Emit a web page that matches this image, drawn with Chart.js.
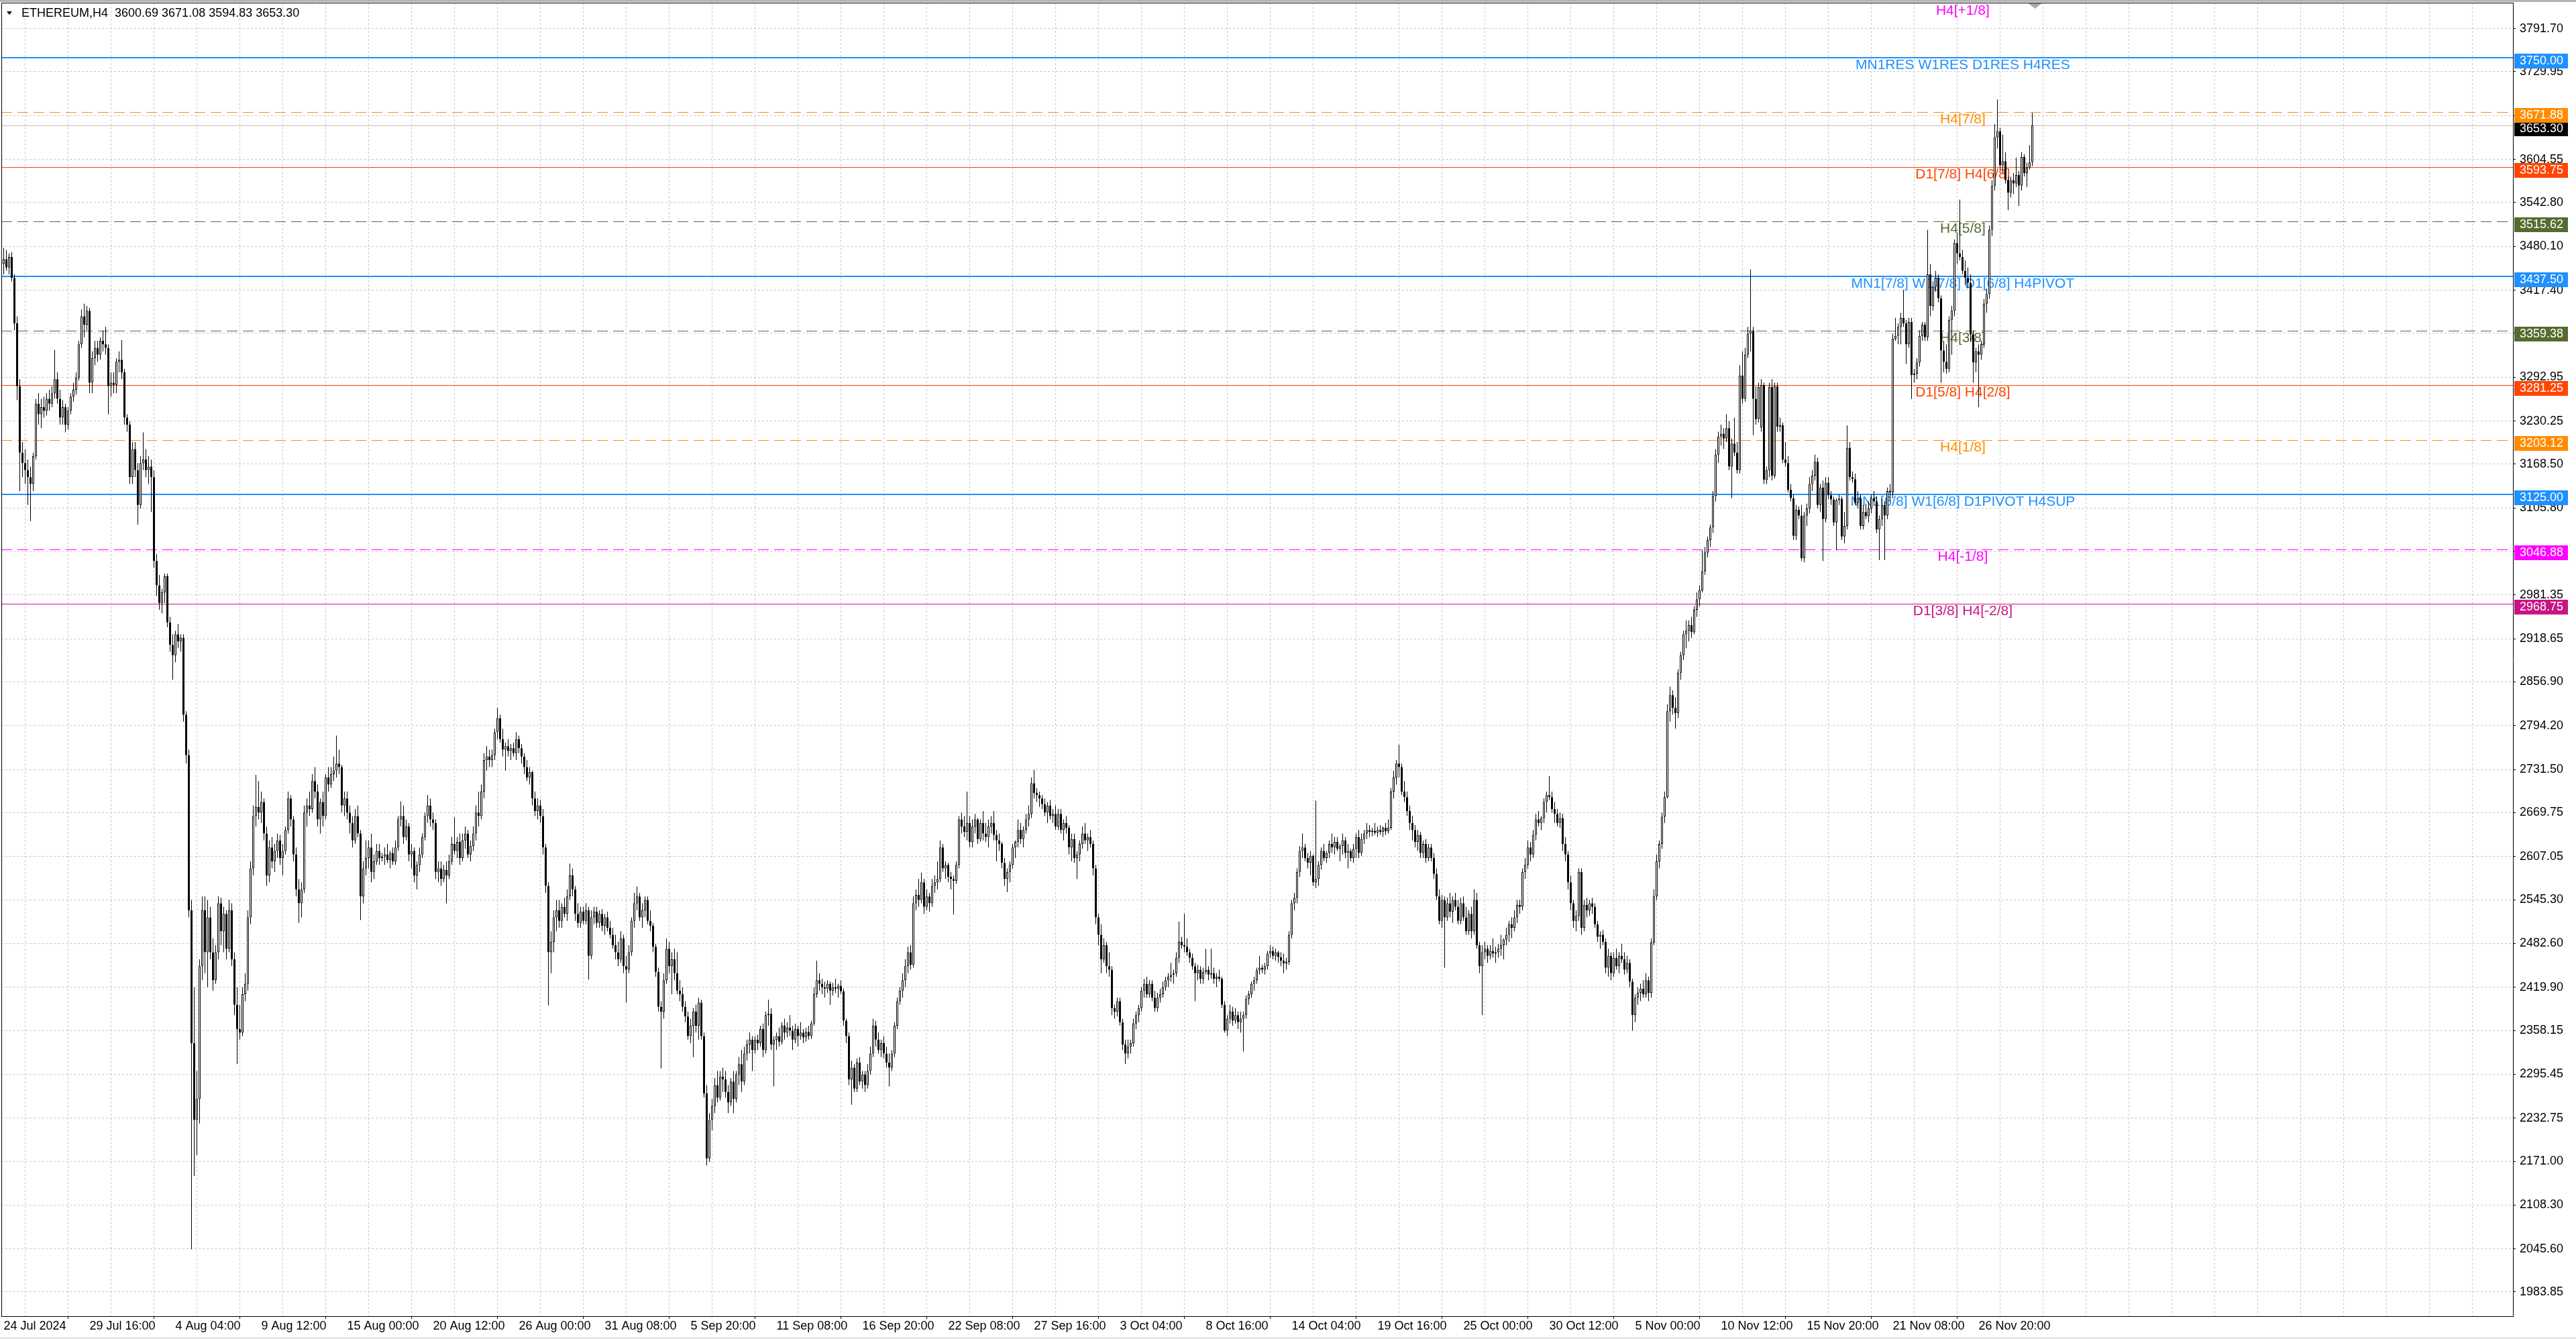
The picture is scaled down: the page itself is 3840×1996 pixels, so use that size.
<!DOCTYPE html>
<html><head><meta charset="utf-8">
<script src="https://cdn.jsdelivr.net/npm/chart.js@4.4.1/dist/chart.umd.min.js"></script>
<style>html,body{margin:0;padding:0;background:#fff;overflow:hidden}canvas{display:block}</style>
</head><body>
<canvas id="c" width="3840" height="1996" style="width:3840px;height:1996px"></canvas>
<script>
// ---------------- DATA ----------------
const symbolName = 'ETHEREUM,H4';
const dateLabels = ['24 Jul 2024','29 Jul 16:00','4 Aug 04:00','9 Aug 12:00','15 Aug 00:00','20 Aug 12:00','26 Aug 00:00','31 Aug 08:00','5 Sep 20:00','11 Sep 08:00','16 Sep 20:00','22 Sep 08:00','27 Sep 16:00','3 Oct 04:00','8 Oct 16:00','14 Oct 04:00','19 Oct 16:00','25 Oct 00:00','30 Oct 12:00','5 Nov 00:00','10 Nov 12:00','15 Nov 20:00','21 Nov 08:00','26 Nov 20:00'];
const yTickLabels = [3791.70,3729.95,3667.25,3604.55,3542.80,3480.10,3417.40,3355.70,3292.95,3230.25,3168.50,3105.80,3043.05,2981.35,2918.65,2856.90,2794.20,2731.50,2669.75,2607.05,2545.30,2482.60,2419.90,2358.15,2295.45,2232.75,2171.00,2108.30,2045.60,1983.85];

const openP = [
3455,3462,3450,3465,3435,3370,3280,3185,3170,3160,
3150,3140,3180,3255,3240,3250,3245,3262,3255,3270,
3290,3262,3235,3250,3225,3245,3265,3275,3292,3340,
3380,3368,3388,3285,3320,3335,3325,3345,3340,3335,
3280,3285,3282,3315,3318,3300,3235,3225,3150,3190,
3160,3110,3170,3175,3160,3165,3150,3030,2995,2970,
2985,3008,2942,2910,2895,2925,2915,2920,2810,2752,
2530,2340,2230,2260,2450,2530,2470,2520,2470,2430,
2470,2540,2500,2525,2475,2530,2460,2395,2360,2355,
2410,2425,2520,2590,2665,2678,2670,2685,2640,2580,
2620,2600,2615,2630,2605,2615,2645,2690,2660,2610,
2560,2540,2560,2670,2680,2675,2715,2700,2660,2685,
2665,2720,2710,2725,2730,2740,2735,2680,2690,2670,
2655,2630,2665,2640,2550,2590,2605,2620,2585,2600,
2615,2605,2607,2610,2602,2612,2600,2620,2660,2665,
2635,2650,2610,2615,2580,2595,2610,2635,2665,2680,
2660,2655,2585,2590,2575,2588,2580,2600,2625,2615,
2628,2605,2630,2640,2610,2622,2640,2670,2665,2700,
2745,2750,2745,2752,2785,2805,2775,2760,2765,2758,
2762,2755,2775,2762,2750,2735,2720,2728,2690,2672,
2680,2665,2620,2565,2470,2485,2520,2530,2515,2535,
2525,2550,2580,2560,2525,2512,2528,2515,2530,2465,
2520,2528,2512,2525,2508,2520,2505,2495,2480,2470,
2460,2490,2450,2445,2470,2515,2540,2550,2520,2530,
2545,2515,2508,2478,2442,2392,2385,2430,2475,2450,
2460,2440,2415,2410,2392,2378,2350,2365,2385,2365,
2398,2350,2268,2175,2230,2250,2280,2262,2292,2288,
2270,2255,2285,2260,2295,2310,2285,2325,2338,2345,
2330,2345,2340,2360,2330,2380,2382,2338,2345,2350,
2342,2365,2355,2362,2358,2345,2360,2350,2355,2348,
2356,2350,2368,2410,2430,2425,2420,2418,2425,2415,
2420,2418,2422,2414,2372,2350,2288,2305,2275,2312,
2285,2295,2280,2300,2325,2365,2345,2330,2340,2325,
2312,2305,2325,2365,2400,2415,2430,2450,2470,2452,
2540,2552,2545,2570,2535,2550,2540,2565,2570,2575,
2620,2590,2595,2578,2575,2572,2595,2660,2650,2642,
2655,2628,2650,2660,2632,2655,2640,2635,2650,2655,
2638,2630,2625,2598,2575,2585,2595,2620,2628,2645,
2632,2645,2660,2668,2712,2698,2695,2690,2682,2670,
2680,2665,2668,2650,2668,2645,2655,2648,2620,2632,
2605,2610,2625,2640,2630,2635,2625,2590,2520,2495,
2460,2480,2450,2445,2390,2385,2400,2370,2338,2325,
2335,2340,2368,2380,2390,2415,2425,2410,2425,2405,
2390,2405,2410,2420,2430,2435,2438,2440,2462,2485,
2480,2478,2470,2462,2450,2440,2445,2432,2442,2445,
2438,2440,2432,2435,2432,2395,2358,2375,2385,2372,
2380,2370,2375,2380,2403,2410,2425,2430,2444,2448,
2445,2450,2468,2472,2465,2470,2463,2458,2454,2456,
2495,2540,2548,2585,2615,2620,2605,2598,2608,2570,
2575,2595,2615,2605,2612,2625,2620,2628,2618,2622,
2630,2612,2615,2605,2618,2635,2612,2632,2640,2645,
2642,2644,2641,2645,2642,2648,2643,2648,2700,2720,
2740,2735,2700,2692,2672,2655,2645,2628,2638,2612,
2625,2605,2620,2605,2582,2550,2515,2545,2520,2540,
2528,2545,2535,2515,2540,2520,2500,2525,2500,2545,
2480,2450,2470,2475,2465,2472,2468,2470,2475,2480,
2488,2495,2510,2505,2520,2538,2535,2585,2595,2620,
2610,2638,2660,2655,2662,2685,2695,2692,2675,2668,
2655,2662,2625,2610,2570,2540,2515,2522,2585,2505,
2538,2530,2540,2535,2510,2492,2495,2485,2448,2465,
2440,2462,2450,2465,2460,2445,2455,2428,2380,2405,
2412,2418,2410,2430,2412,2484,2550,2600,2625,2664,
2692,2815,2838,2820,2812,2870,2895,2925,2930,2938,
2928,2960,2975,2988,3015,3042,3060,3078,3123,3182,
3208,3212,3205,3220,3165,3198,3185,3160,3295,3262,
3325,3355,3360,3262,3233,3221,3282,3146,3160,3279,
3152,3280,3222,3224,3175,3170,3132,3120,3066,3103,
3095,3034,3095,3105,3140,3152,3172,3110,3135,3090,
3142,3124,3118,3085,3117,3119,3065,3080,3192,3150,
3147,3113,3120,3080,3100,3094,3105,3120,3115,3075,
3090,3110,3095,3130,3128,3348,3352,3365,3378,3370,
3340,3372,3296,3298,3314,3352,3368,3350,3440,3395,
3422,3435,3406,3331,3315,3305,3375,3388,3485,3470,
3465,3445,3435,3428,3354,3314,3330,3325,3340,3398,
3412,3504,3567,3636,3645,3596,3602,3575,3557,3575,
3570,3582,3567,3608,3585,3593,3600.69];

const highP = [
3478,3475,3470,3472,3440,3380,3290,3200,3190,3175,
3165,3185,3262,3270,3262,3265,3270,3275,3280,3332,
3300,3275,3260,3255,3250,3270,3285,3300,3345,3390,
3398,3395,3392,3330,3345,3345,3350,3360,3365,3340,
3300,3300,3320,3330,3346,3305,3240,3230,3200,3200,
3170,3180,3214,3190,3180,3175,3160,3040,3010,2990,
3012,3012,2950,2925,2930,2940,2925,2925,2815,2760,
2545,2420,2300,2460,2550,2550,2545,2535,2490,2480,
2550,2548,2535,2530,2545,2540,2470,2420,2395,2420,
2440,2530,2600,2680,2724,2715,2700,2690,2650,2630,
2635,2625,2640,2638,2625,2650,2700,2695,2665,2620,
2575,2570,2680,2690,2700,2725,2735,2710,2690,2700,
2725,2735,2735,2750,2780,2760,2738,2700,2700,2680,
2665,2675,2680,2645,2600,2630,2630,2640,2610,2625,
2625,2612,2620,2625,2615,2620,2630,2665,2686,2680,
2660,2655,2625,2620,2600,2620,2640,2670,2695,2690,
2670,2660,2600,2600,2595,2600,2610,2635,2663,2635,
2640,2640,2650,2645,2630,2650,2680,2700,2710,2755,
2765,2760,2760,2790,2820,2810,2790,2770,2775,2768,
2770,2785,2780,2768,2755,2745,2735,2730,2700,2690,
2688,2675,2625,2570,2500,2530,2545,2545,2540,2548,
2560,2597,2590,2565,2540,2535,2535,2540,2535,2530,
2535,2535,2530,2532,2525,2528,2515,2505,2495,2485,
2500,2495,2465,2480,2520,2555,2564,2555,2540,2550,
2550,2530,2512,2482,2448,2400,2440,2490,2485,2470,
2475,2470,2430,2420,2400,2385,2375,2390,2395,2405,
2402,2355,2280,2240,2260,2290,2300,2300,2305,2300,
2280,2290,2300,2300,2320,2330,2335,2345,2355,2350,
2350,2352,2365,2368,2385,2402,2390,2350,2355,2362,
2370,2375,2370,2380,2365,2368,2365,2370,2360,2362,
2365,2372,2420,2458,2440,2432,2428,2430,2428,2426,
2432,2425,2430,2418,2375,2355,2315,2310,2318,2320,
2300,2300,2310,2335,2375,2372,2355,2345,2350,2335,
2325,2330,2370,2405,2420,2440,2460,2478,2480,2550,
2560,2575,2584,2575,2560,2555,2575,2580,2600,2630,
2625,2600,2598,2585,2580,2600,2665,2670,2665,2700,
2665,2660,2668,2662,2660,2672,2655,2660,2665,2672,
2645,2640,2628,2605,2590,2600,2625,2630,2660,2655,
2650,2668,2680,2720,2731,2705,2700,2695,2690,2685,
2688,2675,2680,2675,2675,2660,2665,2652,2640,2640,
2615,2630,2650,2655,2640,2645,2630,2595,2525,2510,
2490,2485,2470,2450,2395,2405,2405,2375,2345,2345,
2345,2375,2385,2395,2420,2432,2435,2430,2430,2415,
2412,2418,2428,2435,2440,2455,2445,2470,2514,2492,
2525,2490,2475,2468,2455,2452,2450,2448,2475,2450,
2475,2448,2440,2445,2435,2400,2380,2395,2392,2390,
2385,2385,2385,2408,2415,2428,2435,2448,2465,2452,
2455,2472,2480,2478,2475,2472,2470,2468,2462,2500,
2545,2555,2590,2622,2640,2625,2612,2615,2610,2687,
2600,2620,2625,2615,2630,2640,2635,2635,2625,2640,
2635,2625,2618,2625,2640,2645,2640,2645,2655,2652,
2648,2655,2650,2652,2650,2655,2660,2705,2730,2745,
2767,2740,2715,2700,2680,2665,2652,2645,2642,2630,
2632,2625,2625,2612,2590,2560,2552,2550,2548,2555,
2550,2555,2545,2548,2550,2535,2530,2535,2560,2555,
2485,2480,2485,2480,2480,2490,2478,2482,2495,2490,
2505,2515,2520,2530,2545,2545,2590,2605,2630,2628,
2645,2668,2672,2665,2690,2700,2722,2700,2685,2675,
2670,2668,2635,2615,2580,2545,2530,2590,2590,2545,
2548,2545,2548,2540,2515,2500,2502,2490,2475,2470,
2470,2475,2470,2482,2470,2465,2460,2432,2410,2420,
2425,2430,2440,2435,2490,2560,2610,2630,2670,2700,
2825,2850,2845,2835,2875,2900,2930,2945,2945,2950,
2965,2985,2995,3045,3050,3065,3082,3130,3190,3215,
3225,3220,3240,3230,3205,3235,3200,3310,3330,3335,
3365,3447,3365,3280,3285,3290,3285,3165,3285,3290,
3285,3285,3235,3228,3200,3180,3140,3125,3110,3108,
3110,3100,3112,3150,3160,3182,3178,3140,3145,3150,
3150,3130,3122,3120,3125,3122,3100,3224,3200,3158,
3155,3130,3125,3110,3112,3115,3125,3130,3122,3095,
3120,3115,3135,3140,3355,3378,3370,3385,3418,3375,
3378,3378,3305,3320,3360,3372,3372,3504,3455,3430,
3445,3440,3410,3345,3340,3380,3395,3490,3500,3547,
3475,3460,3450,3440,3360,3335,3340,3345,3405,3420,
3510,3575,3655,3690,3650,3640,3615,3580,3580,3585,
3607,3588,3615,3612,3600,3625,3671.08];

const lowP = [
3440,3445,3440,3430,3360,3260,3130,3150,3140,3110,
3087,3130,3175,3225,3220,3235,3238,3245,3250,3262,
3255,3225,3225,3214,3218,3240,3258,3268,3288,3335,
3350,3360,3270,3270,3310,3315,3318,3330,3325,3240,
3265,3270,3270,3300,3290,3225,3215,3140,3140,3150,
3082,3105,3160,3150,3140,3100,3020,2980,2960,2955,
2970,2935,2900,2860,2885,2905,2900,2800,2740,2520,
2045,2150,2180,2225,2430,2440,2420,2460,2415,2425,
2460,2480,2470,2460,2470,2450,2380,2310,2345,2350,
2400,2415,2510,2580,2650,2660,2655,2630,2565,2570,
2590,2585,2605,2595,2580,2610,2640,2650,2600,2550,
2512,2520,2555,2650,2665,2670,2690,2650,2640,2650,
2660,2700,2705,2715,2720,2725,2670,2665,2660,2640,
2620,2625,2635,2516,2540,2580,2590,2570,2575,2595,
2595,2600,2595,2598,2590,2595,2595,2615,2650,2625,
2630,2600,2590,2570,2560,2585,2605,2630,2655,2650,
2645,2575,2570,2565,2570,2540,2575,2595,2610,2605,
2595,2600,2618,2605,2600,2615,2630,2650,2660,2690,
2730,2735,2735,2745,2775,2770,2750,2730,2750,2745,
2750,2745,2755,2740,2725,2715,2710,2680,2665,2660,
2655,2610,2555,2394,2440,2470,2500,2505,2505,2520,
2515,2545,2550,2515,2505,2505,2510,2510,2431,2460,
2510,2505,2505,2500,2495,2500,2490,2475,2460,2450,
2455,2440,2398,2440,2465,2505,2530,2515,2505,2520,
2510,2500,2470,2435,2385,2304,2375,2425,2440,2410,
2430,2410,2400,2385,2370,2345,2340,2320,2355,2345,
2345,2262,2165,2170,2215,2240,2255,2258,2270,2262,
2240,2250,2240,2255,2280,2270,2280,2315,2325,2300,
2325,2330,2335,2320,2325,2365,2330,2278,2330,2335,
2338,2345,2348,2350,2330,2340,2335,2345,2340,2342,
2345,2346,2365,2405,2415,2410,2405,2412,2395,2408,
2412,2405,2410,2365,2340,2280,2252,2270,2270,2280,
2275,2270,2275,2295,2320,2335,2325,2320,2318,2305,
2278,2300,2320,2360,2395,2405,2420,2440,2445,2448,
2530,2535,2540,2525,2530,2528,2535,2555,2560,2570,
2585,2575,2570,2560,2524,2568,2590,2640,2635,2630,
2620,2620,2640,2625,2628,2630,2628,2620,2640,2630,
2600,2615,2590,2565,2556,2570,2590,2605,2620,2625,
2620,2640,2650,2662,2690,2685,2678,2675,2665,2655,
2660,2655,2645,2645,2640,2630,2640,2610,2600,2598,
2575,2600,2618,2625,2615,2620,2580,2510,2480,2440,
2455,2440,2435,2380,2375,2378,2365,2330,2310,2318,
2325,2335,2360,2370,2385,2405,2405,2405,2400,2385,
2385,2398,2405,2415,2420,2428,2425,2435,2455,2475,
2470,2465,2455,2445,2400,2430,2425,2425,2438,2430,
2432,2425,2420,2428,2390,2355,2350,2368,2365,2368,
2360,2355,2328,2375,2395,2405,2415,2425,2438,2440,
2438,2445,2462,2460,2458,2455,2450,2440,2445,2452,
2490,2530,2540,2578,2605,2600,2590,2580,2565,2562,
2565,2588,2600,2598,2605,2612,2610,2615,2600,2610,
2605,2590,2600,2598,2605,2605,2608,2625,2632,2635,
2636,2638,2635,2638,2635,2638,2640,2645,2690,2710,
2720,2695,2685,2665,2645,2630,2620,2615,2605,2605,
2598,2600,2600,2575,2545,2510,2505,2448,2515,2520,
2512,2530,2510,2510,2515,2495,2495,2490,2495,2475,
2440,2380,2460,2455,2460,2462,2455,2462,2465,2460,
2480,2485,2490,2500,2512,2525,2530,2575,2590,2600,
2605,2630,2650,2645,2655,2670,2688,2670,2655,2650,
2648,2615,2600,2560,2530,2505,2500,2515,2495,2500,
2520,2522,2525,2505,2485,2475,2480,2440,2435,2430,
2435,2445,2440,2455,2438,2440,2420,2358,2370,2395,
2400,2405,2405,2400,2405,2480,2545,2590,2618,2655,
2690,2800,2810,2790,2805,2860,2888,2905,2915,2920,
2925,2950,2965,2985,3010,3035,3050,3070,3115,3170,
3195,3190,3200,3160,3120,3180,3155,3155,3255,3258,
3320,3330,3210,3225,3228,3215,3140,3140,3150,3145,
3148,3215,3215,3170,3165,3128,3115,3060,3060,3090,
3030,3028,3080,3098,3130,3145,3105,3100,3030,3085,
3118,3110,3080,3045,3110,3060,3055,3075,3145,3142,
3110,3105,3075,3075,3090,3085,3098,3110,3070,3031,
3080,3031,3090,3115,3120,3345,3340,3340,3365,3312,
3335,3262,3285,3290,3308,3345,3345,3345,3380,3388,
3415,3400,3285,3300,3298,3300,3325,3380,3455,3460,
3440,3425,3420,3345,3285,3300,3250,3318,3335,3385,
3405,3495,3560,3620,3590,3585,3570,3532,3550,3555,
3565,3538,3560,3580,3565,3590,3594.83];

const closeP = [
3462,3450,3465,3435,3370,3280,3185,3170,3160,3150,
3140,3180,3255,3240,3250,3245,3262,3255,3270,3290,
3262,3235,3250,3225,3245,3265,3275,3292,3340,3380,
3368,3388,3285,3320,3335,3325,3345,3340,3335,3280,
3285,3282,3315,3318,3300,3235,3225,3150,3190,3160,
3110,3170,3175,3160,3165,3150,3030,2995,2970,2985,
3008,2942,2910,2895,2925,2915,2920,2810,2752,2530,
2340,2230,2260,2450,2530,2470,2520,2470,2430,2470,
2540,2500,2525,2475,2530,2460,2395,2360,2355,2410,
2425,2520,2590,2665,2678,2670,2685,2640,2580,2620,
2600,2615,2630,2605,2615,2645,2690,2660,2610,2560,
2540,2560,2670,2680,2675,2715,2700,2660,2685,2665,
2720,2710,2725,2730,2740,2735,2680,2690,2670,2655,
2630,2665,2640,2550,2590,2605,2620,2585,2600,2615,
2605,2607,2610,2602,2612,2600,2620,2660,2665,2635,
2650,2610,2615,2580,2595,2610,2635,2665,2680,2660,
2655,2585,2590,2575,2588,2580,2600,2625,2615,2628,
2605,2630,2640,2610,2622,2640,2670,2665,2700,2745,
2750,2745,2752,2785,2805,2775,2760,2765,2758,2762,
2755,2775,2762,2750,2735,2720,2728,2690,2672,2680,
2665,2620,2565,2470,2485,2520,2530,2515,2535,2525,
2550,2580,2560,2525,2512,2528,2515,2530,2465,2520,
2528,2512,2525,2508,2520,2505,2495,2480,2470,2460,
2490,2450,2445,2470,2515,2540,2550,2520,2530,2545,
2515,2508,2478,2442,2392,2385,2430,2475,2450,2460,
2440,2415,2410,2392,2378,2350,2365,2385,2365,2398,
2350,2268,2175,2230,2250,2280,2262,2292,2288,2270,
2255,2285,2260,2295,2310,2285,2325,2338,2345,2330,
2345,2340,2360,2330,2380,2382,2338,2345,2350,2342,
2365,2355,2362,2358,2345,2360,2350,2355,2348,2356,
2350,2368,2410,2430,2425,2420,2418,2425,2415,2420,
2418,2422,2414,2372,2350,2288,2305,2275,2312,2285,
2295,2280,2300,2325,2365,2345,2330,2340,2325,2312,
2305,2325,2365,2400,2415,2430,2450,2470,2452,2540,
2552,2545,2570,2535,2550,2540,2565,2570,2575,2620,
2590,2595,2578,2575,2572,2595,2660,2650,2642,2655,
2628,2650,2660,2632,2655,2640,2635,2650,2655,2638,
2630,2625,2598,2575,2585,2595,2620,2628,2645,2632,
2645,2660,2668,2712,2698,2695,2690,2682,2670,2680,
2665,2668,2650,2668,2645,2655,2648,2620,2632,2605,
2610,2625,2640,2630,2635,2625,2590,2520,2495,2460,
2480,2450,2445,2390,2385,2400,2370,2338,2325,2335,
2340,2368,2380,2390,2415,2425,2410,2425,2405,2390,
2405,2410,2420,2430,2435,2438,2440,2462,2485,2480,
2478,2470,2462,2450,2440,2445,2432,2442,2445,2438,
2440,2432,2435,2432,2395,2358,2375,2385,2372,2380,
2370,2375,2380,2403,2410,2425,2430,2444,2448,2445,
2450,2468,2472,2465,2470,2463,2458,2454,2456,2495,
2540,2548,2585,2615,2620,2605,2598,2608,2570,2575,
2595,2615,2605,2612,2625,2620,2628,2618,2622,2630,
2612,2615,2605,2618,2635,2612,2632,2640,2645,2642,
2644,2641,2645,2642,2648,2643,2648,2700,2720,2740,
2735,2700,2692,2672,2655,2645,2628,2638,2612,2625,
2605,2620,2605,2582,2550,2515,2545,2520,2540,2528,
2545,2535,2515,2540,2520,2500,2525,2500,2545,2480,
2450,2470,2475,2465,2472,2468,2470,2475,2480,2488,
2495,2510,2505,2520,2538,2535,2585,2595,2620,2610,
2638,2660,2655,2662,2685,2695,2692,2675,2668,2655,
2662,2625,2610,2570,2540,2515,2522,2585,2505,2538,
2530,2540,2535,2510,2492,2495,2485,2448,2465,2440,
2462,2450,2465,2460,2445,2455,2428,2380,2405,2412,
2418,2410,2430,2412,2484,2550,2600,2625,2664,2692,
2815,2838,2820,2812,2870,2895,2925,2930,2938,2928,
2960,2975,2988,3015,3042,3060,3078,3123,3182,3208,
3212,3205,3220,3165,3198,3185,3160,3295,3262,3325,
3355,3360,3262,3233,3279,3282,3146,3160,3279,3152,
3280,3222,3224,3175,3170,3132,3120,3066,3103,3095,
3034,3095,3105,3140,3152,3172,3110,3135,3090,3142,
3124,3118,3085,3117,3119,3065,3080,3192,3150,3147,
3113,3120,3080,3100,3094,3105,3120,3115,3075,3090,
3110,3095,3130,3128,3348,3352,3365,3378,3370,3340,
3372,3296,3298,3314,3352,3368,3350,3440,3395,3422,
3435,3406,3331,3315,3305,3375,3388,3485,3470,3465,
3445,3435,3428,3354,3314,3330,3325,3340,3398,3412,
3504,3567,3636,3645,3596,3602,3575,3557,3575,3570,
3582,3567,3608,3585,3593,3600,3653.30];

// Murrey-math style levels drawn by the indicator
const levelPrices = [3828.12, 3750.00, 3671.88, 3593.75, 3515.62, 3437.50, 3359.38, 3281.25, 3203.12, 3125.00, 3046.88, 2968.75];
const levelTexts  = ['H4[+1/8]', 'MN1RES W1RES D1RES H4RES', 'H4[7/8]', 'D1[7/8] H4[6/8]', 'H4[5/8]', 'MN1[7/8] W1[7/8] D1[6/8] H4PIVOT', 'H4[3/8]', 'D1[5/8] H4[2/8]', 'H4[1/8]', 'MN1[6/8] W1[6/8] D1PIVOT H4SUP', 'H4[-1/8]', 'D1[3/8] H4[-2/8]'];
const levelKinds  = ['magenta', 'blue', 'orange', 'red', 'olive', 'blue', 'olive', 'red', 'orange', 'blue', 'magenta', 'violet'];
const levelTagged = [false, true, true, true, true, true, true, true, true, true, true, true];

// ---------------- STYLES ----------------
const FONT = "'Liberation Sans', Arial, sans-serif";
const levelStyle = {
  blue:    {color: '#1E90FF', width: 2, dash: []},
  red:     {color: '#FF4500', width: 1, dash: []},
  orange:  {color: '#FF8C00', width: 1, dash: [16, 8]},
  olive:   {color: '#556B2F', width: 1, dash: [16, 8]},
  magenta: {color: '#FF00FF', width: 1, dash: [16, 8]},
  violet:  {color: '#C71585', width: 1, dash: []}
};
const nBars = closeP.length;
const lastI = nBars - 1;

const bodies = closeP.map((c, i) => ({x: i, y: [openP[i], c]}));
const wicks = closeP.map((c, i) => ({x: i, y: [lowP[i], highP[i]]}));

const overlay = {
  id: 'mt4overlay',
  beforeDraw(chart) {
    const ctx = chart.ctx;
    ctx.save();
    ctx.fillStyle = '#ffffff';
    ctx.fillRect(0, 0, chart.width, chart.height);
    ctx.restore();
  },
  beforeDatasetsDraw(chart) {
    const {ctx, chartArea: a, scales: {x, y}} = chart;
    ctx.save();
    ctx.beginPath();
    ctx.rect(a.left, a.top, a.right - a.left, a.bottom - a.top);
    ctx.clip();
    // bid line
    const yb = Math.round(y.getPixelForValue(closeP[lastI])) + 0.5;
    ctx.strokeStyle = '#c0c0c0'; ctx.lineWidth = 1; ctx.setLineDash([]);
    ctx.beginPath(); ctx.moveTo(a.left, yb); ctx.lineTo(a.right, yb); ctx.stroke();
    // level lines + labels
    const labelX = x.getPixelForValue(730.1);
    ctx.font = '21px ' + FONT;
    ctx.textAlign = 'center';
    ctx.textBaseline = 'middle';
    levelPrices.forEach((p, k) => {
      const st = levelStyle[levelKinds[k]];
      const py = y.getPixelForValue(p);
      if (py > a.top + 3) {
        const yy = st.width % 2 ? Math.round(py) + 0.5 : Math.round(py);
        ctx.strokeStyle = st.color; ctx.lineWidth = st.width; ctx.setLineDash(st.dash);
        ctx.beginPath(); ctx.moveTo(a.left, yy); ctx.lineTo(a.right, yy); ctx.stroke();
      }
      ctx.fillStyle = st.color;
      ctx.fillText(levelTexts[k], labelX, Math.round(py) + 11);
    });
    ctx.restore();
  },
  afterDraw(chart) {
    const {ctx, chartArea: a, scales: {x, y}} = chart;
    ctx.save();
    // window strips
    ctx.fillStyle = '#b4b4b4'; ctx.fillRect(0, 0, chart.width, 3);
    ctx.fillStyle = '#e6e6e6'; ctx.fillRect(0, chart.height - 3, chart.width, 3);
    // frame left/top
    ctx.strokeStyle = '#000'; ctx.lineWidth = 1; ctx.setLineDash([]);
    ctx.beginPath();
    ctx.moveTo(a.left + 0.5, a.bottom); ctx.lineTo(a.left + 0.5, a.top + 0.5); ctx.lineTo(a.right, a.top + 0.5);
    ctx.stroke();
    // chart shift marker
    const sx = x.getPixelForValue(lastI + 1);
    ctx.fillStyle = '#a8a8a8';
    ctx.beginPath(); ctx.moveTo(sx - 10, 5); ctx.lineTo(sx + 10, 5); ctx.lineTo(sx, 13); ctx.closePath(); ctx.fill();
    // title
    ctx.fillStyle = '#000';
    ctx.beginPath(); ctx.moveTo(10, 17); ctx.lineTo(18, 17); ctx.lineTo(14, 22); ctx.closePath(); ctx.fill();
    ctx.font = '18px ' + FONT; ctx.textAlign = 'left'; ctx.textBaseline = 'middle';
    const t = symbolName + '  ' + [openP[lastI], highP[lastI], lowP[lastI], closeP[lastI]].map(v => v.toFixed(2)).join(' ');
    ctx.fillText(t, 32, 20);
    // price tags
    const tag = (price, color) => {
      const py = Math.round(y.getPixelForValue(price));
      ctx.fillStyle = color;
      ctx.fillRect(a.right + 2, py - 6, 80, 22);
      ctx.fillStyle = '#fff';
      ctx.fillText(price.toFixed(2), a.right + 10, py + 5.5);
    };
    tag(closeP[lastI], '#000');
    levelPrices.forEach((p, k) => { if (levelTagged[k]) tag(p, levelStyle[levelKinds[k]].color); });
    ctx.restore();
  }
};

Chart.defaults.font.family = FONT;
Chart.defaults.font.size = 18;
Chart.defaults.color = '#000';

new Chart(document.getElementById('c'), {
  type: 'bar',
  data: {
    datasets: [
      {label: 'body', data: bodies, order: 0, grouped: false, barThickness: 3, inflateAmount: 0,
       borderColor: '#000', borderWidth: 1, borderSkipped: false, minBarLength: 1,
       backgroundColor: c => (closeP[c.dataIndex] >= openP[c.dataIndex] ? '#ffffff' : '#000000')},
      {label: 'wick', data: wicks, order: 1, grouped: false, barThickness: 1, inflateAmount: 0,
       borderWidth: 0, backgroundColor: '#000000'}
    ]
  },
  options: {
    responsive: false,
    devicePixelRatio: 1,
    animation: false,
    events: [],
    layout: {padding: {left: 2, top: 4, right: 0, bottom: 0}},
    plugins: {legend: {display: false}, tooltip: {enabled: false}},
    scales: {
      x: {
        type: 'linear', position: 'bottom', min: -0.875, max: 935.125, offset: false, bounds: 'data',
        afterBuildTicks: s => { const t = []; for (let v = 0; v <= 928; v += 16) t.push({value: v}); s.ticks = t; },
        afterFit: s => { s.height = 34; s.paddingLeft = 0; s.paddingRight = 0; s.paddingTop = 0; s.paddingBottom = 0; },
        ticks: {autoSkip: false, maxRotation: 0, minRotation: 0, align: 'start', padding: 0, color: '#000',
          font: {size: 18, family: FONT},
          callback: v => (v % 32 === 0 && v / 32 < dateLabels.length) ? dateLabels[v / 32] : ''},
        grid: {color: '#c8c8c8', lineWidth: 1, drawTicks: true, tickLength: 4,
          tickColor: c => (c.tick && c.tick.value % 32 === 0 && c.tick.value / 32 < dateLabels.length) ? '#000' : 'rgba(0,0,0,0)'},
        border: {display: true, color: '#000', width: 1, dash: [3, 3]}
      },
      y: {
        type: 'linear', position: 'right', min: 1949.26, max: 3828.82, bounds: 'data',
        afterBuildTicks: s => { s.ticks = yTickLabels.map(v => ({value: v})); },
        afterFit: s => { s.width = 94; s.paddingTop = 0; s.paddingBottom = 0; s.paddingLeft = 0; s.paddingRight = 0; },
        ticks: {autoSkip: false, padding: 6, color: '#000', font: {size: 18, family: FONT},
          callback: v => Number(v).toFixed(2)},
        grid: {color: '#c8c8c8', lineWidth: 1, drawTicks: true, tickLength: 4, tickColor: '#000'},
        border: {display: true, color: '#000', width: 1, dash: [3, 3]}
      }
    }
  },
  plugins: [overlay]
});
</script>
</body></html>
